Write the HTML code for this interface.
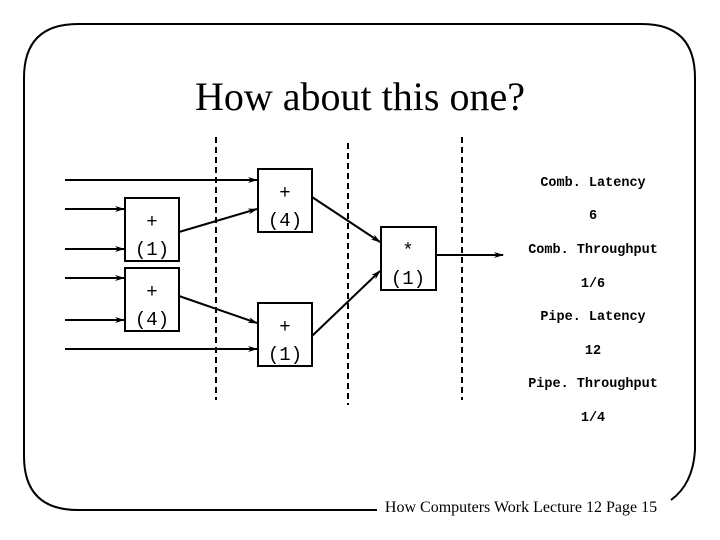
<!DOCTYPE html>
<html><head><meta charset="utf-8"><style>
html,body{margin:0;padding:0;background:#fff;}
svg{display:block;}
.t{font-family:"Liberation Serif",serif;}
.m{font-family:"Liberation Mono",monospace;}
</style></head><body>
<svg width="720" height="540" viewBox="0 0 720 540" xmlns="http://www.w3.org/2000/svg">
<defs><marker id="a" markerWidth="10" markerHeight="8" refX="9" refY="4" orient="auto" markerUnits="userSpaceOnUse"><path d="M0,1 L10,4 L0,7 L3,4 Z" fill="#000"/></marker></defs>
<path d="M377,510 L24+0,510" fill="none"/>
<path d="M377,510 L78,510 Q24,510 24,456 L24,78 Q24,24 78,24 L642,24 Q695,24 695,78 L695,450 Q693,484 671,500" fill="none" stroke="#000" stroke-width="2"/>
<text x="360" y="110" text-anchor="middle" class="t" font-size="40">How about this one?</text>
<text x="521" y="512" text-anchor="middle" class="t" font-size="16">How Computers Work Lecture 12 Page 15</text>
<g stroke="#000" stroke-width="2" stroke-dasharray="6,4">
<line x1="216" y1="137" x2="216" y2="400"/>
<line x1="348" y1="143" x2="348" y2="405"/>
<line x1="462" y1="137" x2="462" y2="400"/>
</g>
<g fill="#fff" stroke="#000" stroke-width="2">
<rect x="125" y="198" width="54" height="63"/>
<rect x="125" y="268" width="54" height="63"/>
<rect x="258" y="169" width="54" height="63"/>
<rect x="258" y="303" width="54" height="63"/>
<rect x="381" y="227" width="55" height="63"/>
</g>
<g stroke="#000" stroke-width="2" marker-end="url(#a)">
<line x1="65" y1="180" x2="257" y2="180"/>
<line x1="65" y1="209" x2="124" y2="209"/>
<line x1="65" y1="249" x2="124" y2="249"/>
<line x1="65" y1="278" x2="124" y2="278"/>
<line x1="65" y1="320" x2="124" y2="320"/>
<line x1="65" y1="349" x2="257" y2="349"/>
<line x1="179" y1="232" x2="257" y2="209"/>
<line x1="179" y1="296" x2="257" y2="323"/>
<line x1="312" y1="197" x2="380" y2="242"/>
<line x1="312" y1="336" x2="380" y2="271"/>
<line x1="436" y1="255" x2="503" y2="255"/>
</g>
<g class="m" font-size="19" text-anchor="middle">
<text x="152" y="227">+</text><text x="152" y="255">(1)</text>
<text x="152" y="297">+</text><text x="152" y="325">(4)</text>
<text x="285" y="198">+</text><text x="285" y="226">(4)</text>
<text x="285" y="332">+</text><text x="285" y="360">(1)</text>
<text x="408" y="256">*</text><text x="408" y="284">(1)</text>
</g>
<g class="m" font-size="13.5" font-weight="bold" text-anchor="middle">
<text x="593" y="186">Comb. Latency</text>
<text x="593" y="219">6</text>
<text x="593" y="253">Comb. Throughput</text>
<text x="593" y="287">1/6</text>
<text x="593" y="320">Pipe. Latency</text>
<text x="593" y="354">12</text>
<text x="593" y="387">Pipe. Throughput</text>
<text x="593" y="421">1/4</text>
</g>
</svg>
</body></html>
